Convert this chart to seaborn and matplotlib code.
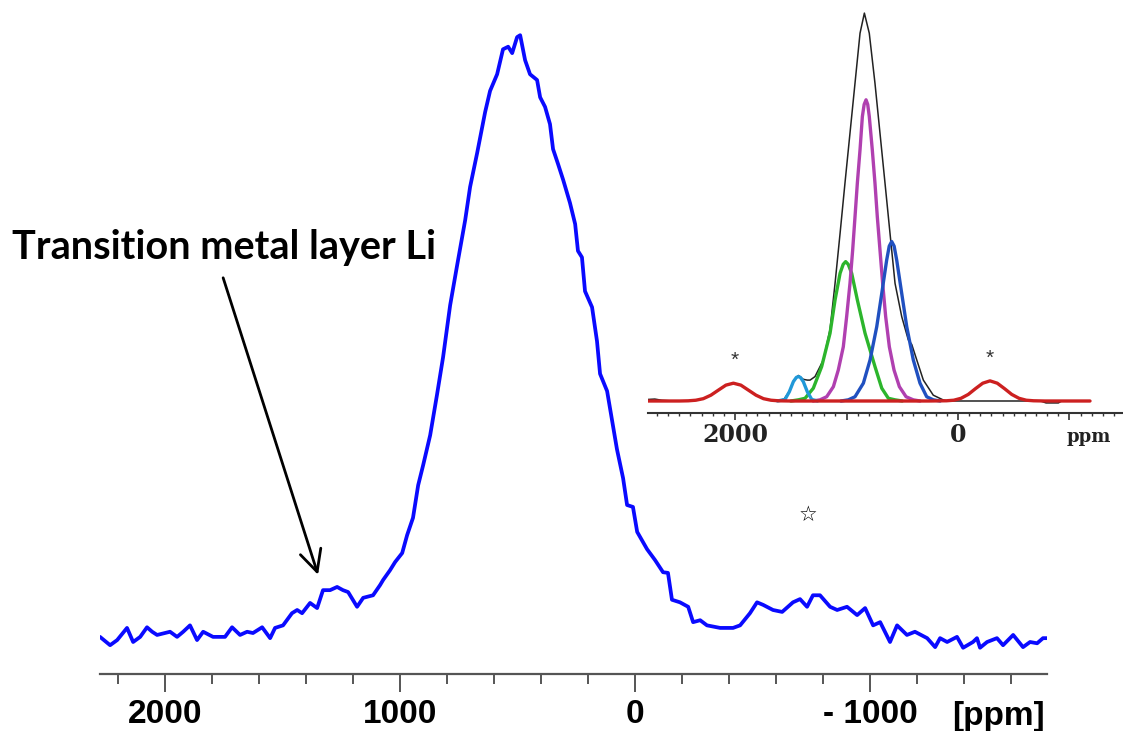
import matplotlib
matplotlib.use("Agg")
import matplotlib.pyplot as plt
import seaborn as sns
from matplotlib.ticker import FixedLocator, FixedFormatter, MultipleLocator

# ---------------- main spectrum (ppm, intensity) ----------------
main_ppm = [2277, 2234, 2204, 2162, 2136, 2106, 2077, 2055, 2034, 1979,
            1949, 1923, 1894, 1864, 1838, 1796, 1745, 1715, 1681, 1651,
            1626, 1587, 1553, 1532, 1498, 1460, 1438, 1417, 1383, 1353,
            1328, 1298, 1268, 1243, 1221, 1183, 1157, 1115, 1085, 1072,
            1043, 1021, 991, 970, 945, 923, 902, 872, 843, 817,
            787, 757, 723, 702, 672, 638, 617, 587, 562, 540,
            523, 502, 489, 481, 468, 447, 417, 404, 383, 362, 349,
            328, 306, 277, 255, 243, 226, 213, 183, 162, 149,
            119, 98, 77, 51, 34, 9, -9, -51, -85, -119,
            -140, -157, -191, -226, -247, -277, -306, -362, -417, -447,
            -489, -519, -545, -587, -626, -672, -702, -732, -757, -787,
            -830, -860, -902, -945, -979, -1013, -1043, -1085, -1115, -1157,
            -1191, -1243, -1277, -1298, -1328, -1370, -1396, -1438, -1455, -1468,
            -1498, -1540, -1566, -1609, -1651, -1681, -1711, -1736, -1753]
main_int = [5.5, 4.2, 5.0, 6.9, 4.7, 5.5, 7.0, 6.3, 5.8, 6.3,
            5.5, 6.3, 7.3, 5.0, 6.3, 5.5, 5.5, 7.0, 5.8, 6.3,
            6.1, 7.0, 5.3, 6.9, 7.3, 9.2, 9.7, 9.2, 10.8, 10.0,
            12.8, 12.8, 13.3, 12.8, 12.5, 10.2, 11.6, 12.0, 13.6, 14.4,
            15.9, 17.2, 18.6, 21.4, 24.1, 29.2, 32.3, 37.0, 43.3, 49.2,
            57.3, 63.6, 70.6, 75.8, 81.1, 87.5, 90.8, 93.4, 97.3, 97.7,
            96.7, 99.2, 99.5, 98.0, 95.6, 93.4, 92.5, 89.8, 88.3, 85.6, 81.7,
            79.4, 76.9, 73.3, 70.0, 65.8, 64.8, 59.5, 57.0, 51.7, 46.6,
            43.9, 39.4, 34.8, 30.3, 26.1, 25.8, 21.9, 19.2, 17.5, 15.6,
            15.5, 11.3, 10.9, 10.2, 7.8, 8.1, 7.3, 6.9, 6.9, 7.3,
            9.2, 10.9, 10.5, 9.7, 9.4, 10.9, 11.4, 10.2, 12.0, 12.0,
            10.2, 9.7, 10.2, 8.9, 10.0, 7.3, 7.8, 4.7, 7.3, 5.8,
            6.3, 5.3, 3.9, 5.3, 4.7, 5.5, 3.8, 4.7, 5.3, 3.8,
            4.7, 5.3, 4.2, 5.8, 3.9, 4.7, 4.5, 5.3, 5.3]

main_ticks = [2000, 1000, 0, -1000]
main_ticklabels = ["2000", "1000", "0", "- 1000"]

# ---------------- inset: measured spectrum and fitted components ----------------
black_ppm = [2780, 2720, 2660, 2560, 2420, 2350, 2285, 2217, 2150, 2082,
             2015, 1948, 1880, 1812, 1745, 1678, 1610, 1560, 1513, 1477,
             1432, 1388, 1352, 1327, 1283, 1208, 1148, 1103, 1058, 1014,
             969, 924, 879, 840, 796, 745, 700, 655, 610, 565,
             505, 446, 415, 370, 311, 222, 132, 100, -740, -790,
             -900, -930]
black_int = [0.4, 0.5, 0.2, 0.0, 0.05, 0.2, 0.6, 1.5, 2.8, 4.1,
             4.6, 4.1, 2.8, 1.5, 0.6, 0.2, 0.1, 0.5, 2.5, 5.1,
             6.6, 5.6, 5.4, 5.4, 6.3, 10.6, 18.5, 30.4, 43.3, 56.3,
             69.2, 82.1, 95.0, 100.2, 95.0, 82.1, 69.2, 56.3, 43.3, 30.4,
             21.8, 15.8, 14.6, 10.6, 5.4, 1.5, 0.26, 0.0, 0.0, -0.5,
             -0.5, 0.0]

magenta_ppm = [1300, 1238, 1178, 1118, 1074, 1029, 999, 969, 945, 924, 903, 879, 858, 842,
               825, 810, 796, 769, 745, 724, 700, 676, 649, 616, 574, 526, 466, 401, 340]
magenta_int = [0.0, 0.3, 1.1, 3.7, 8.0, 14.0, 21.8, 30.4, 39.0, 47.6, 56.3, 64.9, 73.5, 76.6,
               77.8, 76.6, 73.5, 64.9, 56.3, 47.6, 39.0, 30.4, 21.8, 14.0, 8.0, 3.7, 1.1, 0.3, 0.0]

green_ppm = [1500, 1432, 1372, 1298, 1223, 1148, 1103, 1058, 1030, 1008, 985, 954, 903, 834, 745, 684, 625, 565, 500]
green_int = [0.0, 0.3, 0.7, 3.3, 8.9, 17.5, 26.1, 33.0, 35.3, 36.0, 35.3, 33.0, 26.1, 17.5, 8.9, 3.3, 0.7, 0.3, 0.0]

blue_ppm = [1050, 984, 924, 849, 789, 729, 684, 640, 617, 595, 573, 550, 505, 460, 401, 341, 281, 222, 160]
blue_int = [0.0, 0.3, 1.1, 4.6, 10.6, 19.2, 27.8, 36.4, 40.0, 41.2, 40.0, 36.4, 27.8, 19.2, 10.6, 4.6, 1.1, 0.3, 0.0]

cyan_ppm = [1620, 1552, 1513, 1477, 1450, 1432, 1414, 1388, 1352, 1312, 1260]
cyan_int = [0.0, 0.4, 2.4, 5.0, 6.1, 6.3, 6.1, 5.0, 2.4, 0.4, 0.0]

red_ppm = [2780, 2500, 2420, 2352, 2285, 2217, 2150, 2082, 2015, 1948, 1880, 1812, 1745,
           1678, 1610, 1500, 260, 103, 38, -27, -92, -157, -222, -287, -352, -417,
           -482, -547, -612, -677, -780, -1184]
red_int = [0.0, 0.0, 0.05, 0.2, 0.6, 1.5, 2.8, 4.1, 4.6, 4.1, 2.8, 1.5, 0.6,
           0.2, 0.05, 0.0, 0.0, 0.06, 0.2, 0.7, 1.7, 3.2, 4.6, 5.2, 4.6, 3.2,
           1.7, 0.7, 0.2, 0.06, 0.0, 0.0]

inset_ticks = [2000, 1000, 0, -1000]
inset_ticklabels = ["2000", "", "0", ""]

# ---------------- figure ----------------
sns.set_theme(style="ticks")
plt.rcParams['font.family'] = ['Liberation Sans', 'DejaVu Sans']

W, H = 1123, 731
fig = plt.figure(figsize=(W / 100, H / 100), dpi=100)


def px_axes(l, t, r, b):
    return fig.add_axes([l / W, 1 - b / H, (r - l) / W, (b - t) / H])


ax = px_axes(100, 32, 1047, 674)
ax.set_facecolor('none')
sns.lineplot(x=main_ppm, y=main_int, ax=ax, color='#0a0aff', linewidth=2.7,
             sort=False, estimator=None)
ax.set_xlim(2277, -1753)
ax.set_ylim(-0.3, 100)
for s in ['top', 'right', 'left']:
    ax.spines[s].set_visible(False)
ax.spines['bottom'].set_color('#555555')
ax.spines['bottom'].set_linewidth(1.6)
ax.set_yticks([])
ax.xaxis.set_major_locator(FixedLocator(main_ticks))
ax.xaxis.set_major_formatter(FixedFormatter(main_ticklabels))
ax.xaxis.set_minor_locator(MultipleLocator(200))
ax.tick_params(axis='x', which='major', direction='out', length=13, width=1.4,
               color='#555555', pad=5, labelsize=24, labelcolor='black')
ax.tick_params(axis='x', which='minor', direction='out', length=7, width=1.4,
               color='#555555')
for lbl in ax.get_xticklabels():
    lbl.set_fontweight('bold')
ax.set_xlabel('')
ax.set_ylabel('')

fig.text(1045 / W, 1 - 701 / H, '[ppm]', ha='right', va='top', fontsize=24,
         fontweight='bold', color='black')

# star marker and annotation
ax.text(-736, 24.5, '\u2606', ha='center', va='center', fontsize=15,
        family=['DejaVu Sans'], color='black')
ax.annotate('', xy=(1349, 15.2), xytext=(1753, 61.6),
            arrowprops=dict(arrowstyle='->,head_length=0.7,head_width=0.35',
                            lw=2.0, color='black', mutation_scale=22,
                            shrinkA=0, shrinkB=0))
fig.text(12 / W, 1 - 247 / H, 'Transition metal layer Li', ha='left', va='center',
         fontsize=28.5, fontweight='bold', family=['Lato', 'DejaVu Sans'], color='black')

# ---------------- inset ----------------
axi = px_axes(648, 10, 1123, 413)
axi.set_facecolor('white')
axi.set_xlim(2781, -1480)
axi.set_ylim(-3.1, 101)
sns.lineplot(x=black_ppm, y=black_int, ax=axi, color='#222222', linewidth=1.1,
             sort=False, estimator=None)
sns.lineplot(x=green_ppm, y=green_int, ax=axi, color='#2cb52c', linewidth=2.4,
             sort=False, estimator=None)
sns.lineplot(x=magenta_ppm, y=magenta_int, ax=axi, color='#b040b0', linewidth=2.4,
             sort=False, estimator=None)
sns.lineplot(x=blue_ppm, y=blue_int, ax=axi, color='#2050c0', linewidth=2.4,
             sort=False, estimator=None)
sns.lineplot(x=cyan_ppm, y=cyan_int, ax=axi, color='#2098d8', linewidth=2.4,
             sort=False, estimator=None)
sns.lineplot(x=red_ppm, y=red_int, ax=axi, color='#cc2020', linewidth=2.4,
             sort=False, estimator=None)
for s in ['top', 'right', 'left']:
    axi.spines[s].set_visible(False)
axi.spines['bottom'].set_color('#333333')
axi.spines['bottom'].set_linewidth(1.5)
axi.set_yticks([])
axi.xaxis.set_major_locator(FixedLocator(inset_ticks))
axi.xaxis.set_major_formatter(FixedFormatter(inset_ticklabels))
axi.xaxis.set_minor_locator(MultipleLocator(100))
axi.tick_params(axis='x', which='major', direction='out', length=5, width=1.2,
                color='#333333', pad=2, labelsize=17)
axi.tick_params(axis='x', which='minor', direction='out', length=2.5, width=1.0,
                color='#333333')
for lbl in axi.get_xticklabels():
    lbl.set_fontweight('bold')
    lbl.set_family(['DejaVu Serif'])
    lbl.set_color('#222222')
axi.set_xlabel('')
axi.set_ylabel('')
axi.text(2000, 10.6, '*', ha='center', va='center', fontsize=15, color='#333333')
axi.text(-287, 11.0, '*', ha='center', va='center', fontsize=15, color='#333333')
fig.text(1089 / W, 1 - 437 / H, 'ppm', ha='center', va='center', fontsize=13,
         fontweight='bold', family=['DejaVu Serif'], color='#222222')

fig.savefig('out.png', dpi=100)
